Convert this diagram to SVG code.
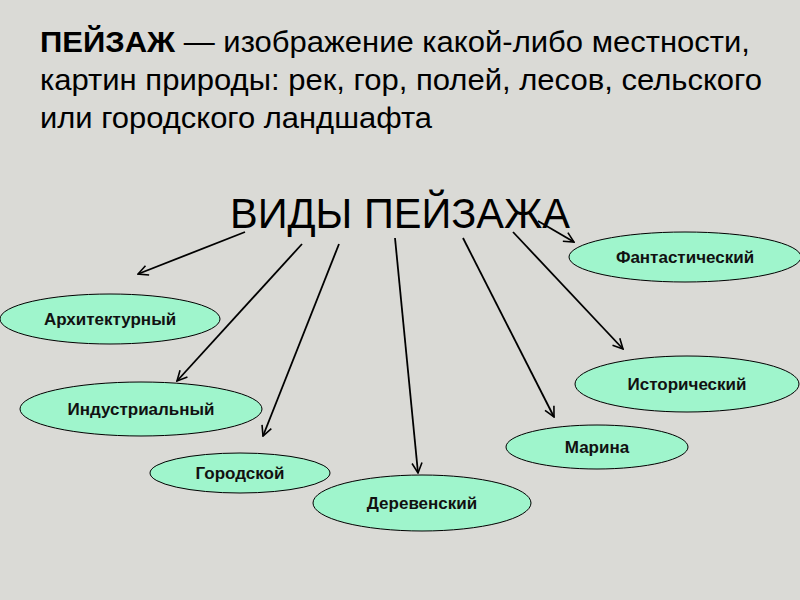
<svg xmlns="http://www.w3.org/2000/svg" width="800" height="600" viewBox="0 0 800 600">
<defs>
<marker id="ah" viewBox="0 0 12 12" refX="11" refY="6" markerWidth="12" markerHeight="12" markerUnits="userSpaceOnUse" orient="auto">
<path d="M1,1 L11,6 L1,11" fill="none" stroke="#000" stroke-width="1.6"/>
</marker>
</defs>
<style>
.node ellipse{fill:#9ff5cc;stroke:#000;stroke-width:1}
.node text{font-family:"Liberation Sans",Arial,sans-serif;font-weight:bold;font-size:17px;fill:#111;text-anchor:middle}
.conn line{stroke:#000;stroke-width:1.8;marker-end:url(#ah)}
.def{font-family:"Liberation Sans",Arial,sans-serif;font-size:30px;fill:#000}
</style>
<rect width="800" height="600" fill="#dadad6"/>
<g id="definition">
<text class="def" x="40" y="52" textLength="710" lengthAdjust="spacingAndGlyphs"><tspan font-weight="bold">ПЕЙЗАЖ</tspan> — изображение какой-либо местности,</text>
<text class="def" x="40" y="90" textLength="722" lengthAdjust="spacingAndGlyphs">картин природы: рек, гор, полей, лесов, сельского</text>
<text class="def" x="40" y="128" textLength="392" lengthAdjust="spacingAndGlyphs">или городского ландшафта</text>
</g>
<g id="title">
<text x="400" y="228" font-family="Liberation Sans,Arial,sans-serif" font-size="42" text-anchor="middle" textLength="340" lengthAdjust="spacingAndGlyphs">ВИДЫ ПЕЙЗАЖА</text>
</g>
<g id="connectors" class="conn">
<line x1="245" y1="232" x2="138" y2="274"/>
<line x1="302" y1="244" x2="177" y2="381"/>
<line x1="339" y1="244" x2="263" y2="436"/>
<line x1="395" y1="238" x2="418" y2="473"/>
<line x1="463" y1="238" x2="554" y2="417"/>
<line x1="513" y1="232" x2="623" y2="349"/>
<line x1="538" y1="221" x2="574" y2="242"/>
</g>
<g id="n-arch" class="node"><ellipse cx="110" cy="319" rx="110" ry="25"/><text x="110" y="325">Архитектурный</text></g>
<g id="n-ind" class="node"><ellipse cx="141" cy="409" rx="121" ry="27"/><text x="141" y="415">Индустриальный</text></g>
<g id="n-gor" class="node"><ellipse cx="240" cy="473" rx="90" ry="20"/><text x="240" y="479">Городской</text></g>
<g id="n-der" class="node"><ellipse cx="422" cy="503" rx="109" ry="28"/><text x="422" y="509">Деревенский</text></g>
<g id="n-mar" class="node"><ellipse cx="597" cy="447" rx="91" ry="22"/><text x="597" y="453">Марина</text></g>
<g id="n-ist" class="node"><ellipse cx="687" cy="384" rx="112" ry="28"/><text x="687" y="390">Исторический</text></g>
<g id="n-fan" class="node"><ellipse cx="685" cy="257" rx="116" ry="25"/><text x="685" y="263">Фантастический</text></g>
</svg>
